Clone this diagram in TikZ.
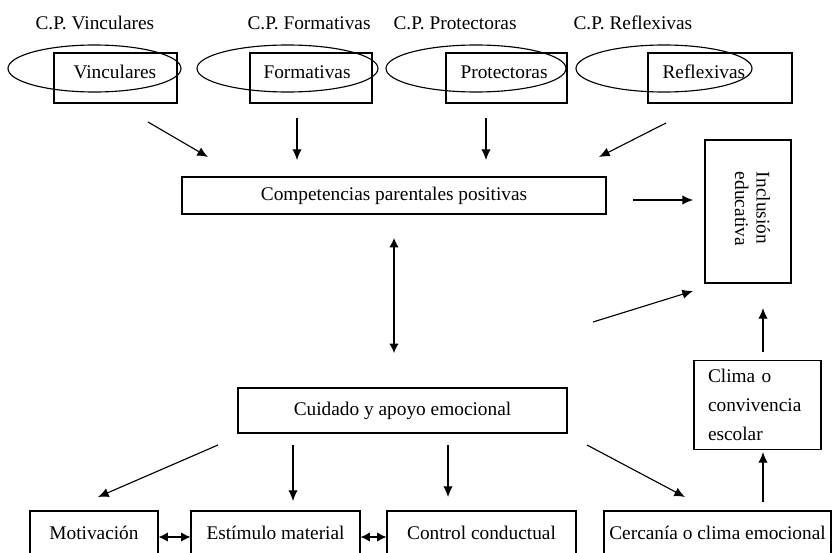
\documentclass[tikz,border=0pt]{standalone}
\usepackage{fontspec}
\setmainfont{Liberation Serif}
\usetikzlibrary{shapes.geometric,arrows.meta}

\begin{document}
\begin{tikzpicture}[x=0.75pt,y=-0.75pt,line width=0.85pt,
  every node/.style={font=\fontsize{14.5}{22}\selectfont,inner sep=0pt},
  box/.style={draw,rectangle},
  ring/.style={draw,ellipse,minimum height=35.25pt},
  arr/.style={-{Latex[length=8pt,width=7pt]}},
  darr/.style={{Latex[length=7pt,width=7pt]}-{Latex[length=7pt,width=7pt]}}]
  \useasboundingbox (0,0) rectangle (832,553);

  \node[anchor=base west] (tv) at (35,29) {C.P. Vinculares};
  \node[anchor=base west] (tf) at (247,29) {C.P. Formativas};
  \node[anchor=base west] (tp) at (393,29) {C.P. Protectoras};
  \node[anchor=base west] (tr) at (573,29) {C.P. Reflexivas};

  \node[box,minimum width=92.25pt,minimum height=37.5pt] (bv) at (115.5,78) {};
  \node[box,minimum width=91.5pt,minimum height=37.5pt] (bf) at (311,78) {};
  \node[box,minimum width=90.75pt,minimum height=37.5pt] (bp) at (506.5,78) {};
  \node[box,minimum width=108pt,minimum height=37.5pt] (br) at (720,78) {};
  \node[anchor=base west] (lv) at (73,78) {Vinculares};
  \node[anchor=base west] (lf) at (263,78) {Formativas};
  \node[anchor=base west] (lp) at (460,78) {Protectoras};
  \node[anchor=base west] (lr) at (662,78) {Reflexivas};
  \node[ring,minimum width=129.75pt] (ev) at (94.5,68.5) {};
  \node[ring,minimum width=135.75pt] (ef) at (287.5,68.5) {};
  \node[ring,minimum width=135pt] (ep) at (476,68.5) {};
  \node[ring,minimum width=132pt] (er) at (664,68.5) {};

  \node[box,minimum width=318pt,minimum height=27.75pt] (comp) at (394,195.5) {Competencias parentales positivas};
  \node[box,minimum width=64.5pt,minimum height=107.25pt] (incl) at (748,211.5) {};
  \node[rotate=-90,align=left,font=\fontsize{14.5}{16}\selectfont] (li) at (752.5,209) {Inclusión\\educativa};
  \node[box,minimum width=246.75pt,minimum height=33.75pt] (cuid) at (402.5,410.5) {Cuidado y apoyo emocional};
  \node[box,align=left,text width=74.25pt,inner xsep=10.5pt,minimum height=66.75pt] (clima) at (757.5,405) {Clima o\\convivencia\\escolar};

  \node[box,minimum width=96pt,minimum height=33pt] (motiv) at (94,533) {Motivación};
  \node[box,minimum width=126.75pt,minimum height=33pt] (estim) at (275.5,533) {Estímulo material};
  \node[box,minimum width=141.75pt,minimum height=33pt] (contr) at (481.5,533) {Control conductual};
  \node[box,minimum width=170.25pt,minimum height=33pt] (cerca) at (717.5,533) {Cercanía o clima emocional};

  \coordinate (v0) at (148,122); \coordinate (v1) at (208,157);
  \coordinate (f0) at (297,118); \coordinate (f1) at (297,160);
  \coordinate (p0) at (486,118); \coordinate (p1) at (486,160);
  \coordinate (r0) at (666,123); \coordinate (r1) at (599,157);
  \coordinate (ci0) at (633,200); \coordinate (ci1) at (693,200);
  \coordinate (cc0) at (394,238); \coordinate (cc1) at (394,353);
  \coordinate (x0) at (593,322); \coordinate (x1) at (693,291);
  \coordinate (cl0) at (763,352); \coordinate (cl1) at (763,308);
  \coordinate (m0) at (218,445); \coordinate (m1) at (98,497);
  \coordinate (e0) at (293,445); \coordinate (e1) at (293,501);
  \coordinate (k0) at (448,445); \coordinate (k1) at (448,497);
  \coordinate (ce0) at (587,445); \coordinate (ce1) at (685,497);
  \coordinate (cz0) at (763,502); \coordinate (cz1) at (763,452);

  \draw[arr] (v0) -- (v1);
  \draw[arr] (f0) -- (f1);
  \draw[arr] (p0) -- (p1);
  \draw[arr] (r0) -- (r1);
  \draw[arr] (ci0) -- (ci1);
  \draw[darr] (cc0) -- (cc1);
  \draw[arr] (x0) -- (x1);
  \draw[arr] (cl0) -- (cl1);
  \draw[arr] (m0) -- (m1);
  \draw[arr] (e0) -- (e1);
  \draw[arr] (k0) -- (k1);
  \draw[arr] (ce0) -- (ce1);
  \draw[arr] (cz0) -- (cz1);
  \draw[darr] ([yshift=-3pt]motiv.east) -- ([yshift=-3pt]estim.west);
  \draw[darr] ([yshift=-3pt]estim.east) -- ([yshift=-3pt]contr.west);
\end{tikzpicture}
\end{document}
